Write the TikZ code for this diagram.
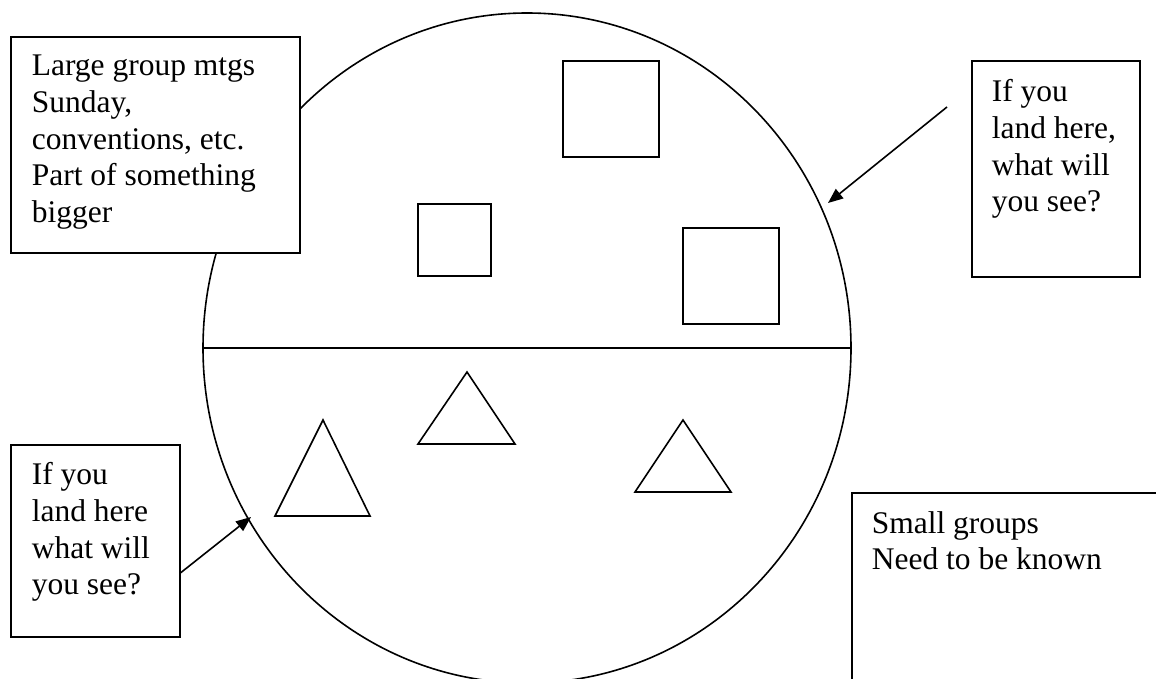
\documentclass[tikz,border=0pt]{standalone}
\usepackage{fontspec}
\setmainfont{Liberation Serif}
\usetikzlibrary{shapes.geometric, positioning, arrows.meta}
\tikzset{
    x=1pt, y=-1pt,
    note/.style={draw, fill=white, inner sep=0pt, anchor=north west},
    notetext/.style={inner sep=0pt, align=left, font=\fontsize{31.5}{36.8}\selectfont},
    pointer/.style={-{Triangle[length=15pt, width=12pt]}},
}

\begin{document}
\begin{tikzpicture}[line width=1.6pt]

\clip (0,0) rectangle (1156,679);

\node[draw, ellipse, inner sep=0pt, minimum width=648pt, minimum height=670pt] (world) at (527,348) {};
\draw (world.west) -- (world.east);

\draw (563,61) rectangle (659,157);
\draw (418,204) rectangle (491,276);
\draw (683,228) rectangle (779,324);

\draw (323,420) -- (370,516) -- (275,516) -- cycle;
\draw (467,372) -- (515,444) -- (418,444) -- cycle;
\draw (683,420) -- (731,492) -- (635,492) -- cycle;

\node[note, minimum width=289pt, minimum height=216pt] (large) at (10,36) {};
\node[notetext, below right=18pt and 21pt of large.north west] (largetxt) {Large group mtgs\\Sunday,\\conventions, etc.\\Part of something\\bigger};

\node[note, minimum width=168pt, minimum height=216pt] (upper) at (971,60) {};
\node[notetext, below right=18.5pt and 20pt of upper.north west] (uppertxt) {If you\\land here,\\what will\\you see?};

\node[note, minimum width=169pt, minimum height=192pt] (lower) at (10,444) {};
\node[notetext, below right=17.5pt and 21pt of lower.north west] (lowertxt) {If you\\land here\\what will\\you see?};

\node[note, minimum width=400pt, minimum height=300pt] (small) at (851,492) {};
\node[notetext, below right=18.5pt and 20pt of small.north west] (smalltxt) {Small groups\\Need to be known};

\coordinate (uppertail) at (947,107);
\coordinate (upperhit) at (828,203);
\coordinate (lowerhit) at (251,517);

\draw[pointer] (uppertail) -- (upperhit);
\draw[pointer] ([yshift=-32pt]lower.east) -- (lowerhit);

\end{tikzpicture}
\end{document}
